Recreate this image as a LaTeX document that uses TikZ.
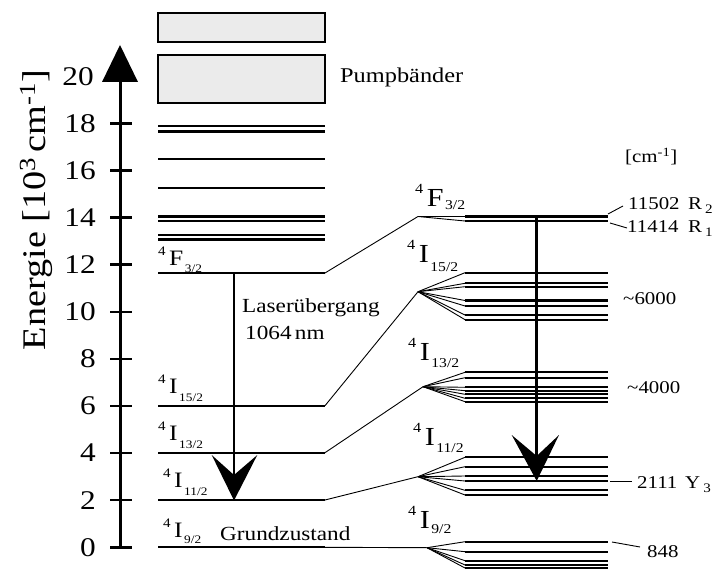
\documentclass[tikz,border=0pt]{standalone}
\usepackage{fontspec}
\setmainfont[FakeStretch=1.16]{Liberation Serif}
\definecolor{bandgray}{RGB}{235,235,235}
% term symbols: small left superscript, main letter, lowered subscript
\newcommand\termL[3][-8pt]{\raisebox{10pt}{\fontsize{13}{13}\selectfont 4}\hspace{3.5pt}{\fontsize{22}{22}\selectfont #2}\hspace{1.5pt}\raisebox{#1}{\fontsize{11.5}{11.5}\selectfont #3}}
\newcommand\termR[3][-8pt]{\raisebox{13pt}{\fontsize{14}{14}\selectfont 4}\hspace{3.5pt}{\fontsize{26}{26}\selectfont #2}\hspace{1.5pt}\raisebox{#1}{\fontsize{13.5}{13.5}\selectfont #3}}
\newcommand\lowidx[1]{\,\raisebox{-4pt}{\fontsize{13}{13}\selectfont #1}}
\begin{document}
\begin{tikzpicture}[x=1pt,y=-1pt,
  level/.style={line width=2.3pt},
  fan/.style={line width=0.9pt},
  leader/.style={line width=0.9pt},
  tickmark/.style={line width=2.4pt},
  band/.style={draw,line width=1.8pt,fill=bandgray},
  shaft/.style={line width=2.8pt},
  lbl/.style={inner sep=0pt,anchor=base west},
  ticklbl/.style={inner sep=0pt,anchor=east,font=\fontsize{27}{27}\selectfont},
  small/.style={lbl,font=\fontsize{18}{18}\selectfont},
  mid/.style={lbl,font=\fontsize{20}{20}\selectfont}]
\useasboundingbox (0,0) rectangle (723,569);

% energy axis
\coordinate (ax0) at (120,547.3);
\coordinate (axbase) at (120,82);
\coordinate (axtip) at (120,45);
\draw[line width=3pt] (ax0) -- (axbase);
\fill (102,82) -- (axtip) -- (138,82) -- cycle;
\foreach \v in {0,2,...,18}{
  \draw[tickmark] (110,547.3-\v*23.55) -- (132,547.3-\v*23.55);
  \node[ticklbl] at (96,547.3-\v*23.55) {\v};
}
\node[ticklbl] at (94,547.3-20*23.55) {20};
\node[inner sep=0pt,rotate=90,anchor=base,font=\fontsize{33}{33}\selectfont] (elabel) at (45,210)
  {Energie [10\textsuperscript{3}\,cm\textsuperscript{-1}]};

% pump bands
\draw[band] (158,13.3) rectangle (325,42.3);
\draw[band] (158,55) rectangle (325,102.7);
\node[mid,font=\fontsize{21}{21}\selectfont] (pump) at (340,83) {Pumpbänder};

% higher levels
\foreach \yy in {126,131.5,159.3,187.7,216.5,221,235,239.5}
  \draw[level] (158,\yy) -- (325,\yy);

% main manifolds (left)
\coordinate (F-l) at (158,273);   \coordinate (F-r) at (325,273);
\coordinate (I15-l) at (158,405.7); \coordinate (I15-r) at (325,405.7);
\coordinate (I13-l) at (158,452.7); \coordinate (I13-r) at (325,452.7);
\coordinate (I11-l) at (158,500);   \coordinate (I11-r) at (325,500);
\coordinate (I9-l) at (158,547.3);  \coordinate (I9-r) at (325,547.3);
\foreach \m in {F,I15,I13,I11,I9}
  \draw[level] (\m-l) -- (\m-r);

\node[lbl] (tF) at (158,266) {\termL[-7pt]{F}{3/2}};
\node[lbl] (tI15) at (158,393) {\termL{I}{15/2}};
\node[lbl] (tI13) at (158,440) {\termL{I}{13/2}};
\node[lbl] (tI11) at (163,487) {\termL{I}{11/2}};
\node[lbl] (tI9) at (163,537) {\termL[-6pt]{I}{9/2}};
\node[mid] (ground) at (220,540) {Grundzustand};

% Stark splitting (right)
\coordinate (fF) at (418,216.5);
\coordinate (fI15) at (418,291.7);
\coordinate (fI13) at (423,386.7);
\coordinate (fI11) at (418,476.7);
\coordinate (fI9) at (427,547.7);
\draw[fan] (F-r) -- (fF);
\draw[fan] (I15-r) -- (fI15);
\draw[fan] (I13-r) -- (fI13);
\draw[fan] (I11-r) -- (fI11);
\draw[fan] (I9-r) -- (fI9);
\foreach \f/\list in {fF/{216.5,221},
    fI15/{272.7,283.3,286.7,300.5,306,315,319.7},
    fI13/{372.3,377.7,387.3,390.7,394.3,398.3,401.7},
    fI11/{457.3,466.7,476,481,490.3,495},
    fI9/{541.7,551.7,560.7,565,568}}{
  \foreach \yy in \list {
    \draw[fan] (\f) -- (465,\yy);
    \draw[level] (465,\yy) -- (608,\yy);
  }
}

\node[lbl] (rF) at (415,207) {\termR[-3pt]{F}{3/2}};
\node[lbl] (rI15) at (407,263) {\termR[-9pt]{I}{15/2}};
\node[lbl] (rI13) at (408,360) {\termR[-7pt]{I}{13/2}};
\node[lbl] (rI11) at (413,445) {\termR[-7pt]{I}{11/2}};
\node[lbl] (rI9) at (408,528) {\termR[-5pt]{I}{9/2}};

% laser transition arrows
\coordinate (la-top) at (234,273);
\coordinate (la-notch) at (234,475);
\draw[shaft] (la-top) -- (la-notch);
\fill (234,500.5) -- (211.7,455) -- (la-notch) -- (257.3,455) -- cycle;
\node[mid] (laser) at (242,313) {Laserübergang};
\node[mid] (lambda) at (245,340) {1064\,nm};

\coordinate (ra-top) at (536.7,216.5);
\coordinate (ra-notch) at (536.7,456);
\draw[shaft,line width=3pt] (ra-top) -- (ra-notch);
\fill (536.7,481) -- (511.7,435) -- (ra-notch) -- (559,435) -- cycle;

% wavenumber values
\node[small] (unit) at (625,163) {[cm\textsuperscript{-1}]};
\node[small] (vR2) at (628,210) {11502};
\node[small] at (688,210) {R\lowidx{2}};
\node[small] (vR1) at (627,233) {11414};
\node[small] at (688,233) {R\lowidx{1}};
\node[small] (v6) at (623,305) {\textasciitilde 6000};
\node[small] (v4) at (627,393) {\textasciitilde 4000};
\node[small] (vY3) at (637,488) {2111};
\node[small] at (685,488) {Y\lowidx{3}};
\node[small] (v848) at (647,557) {848};
\coordinate (lR2a) at (608,214); \coordinate (lR2b) at (623,206);
\coordinate (lR1a) at (610,223); \coordinate (lR1b) at (627,228);
\coordinate (lY3a) at (610,481); \coordinate (lY3b) at (632,481);
\coordinate (l848a) at (612,542); \coordinate (l848b) at (640,547);
\draw[leader] (lR2a) -- (lR2b);
\draw[leader] (lR1a) -- (lR1b);
\draw[leader] (lY3a) -- (lY3b);
\draw[leader] (l848a) -- (l848b);
\end{tikzpicture}
\end{document}
